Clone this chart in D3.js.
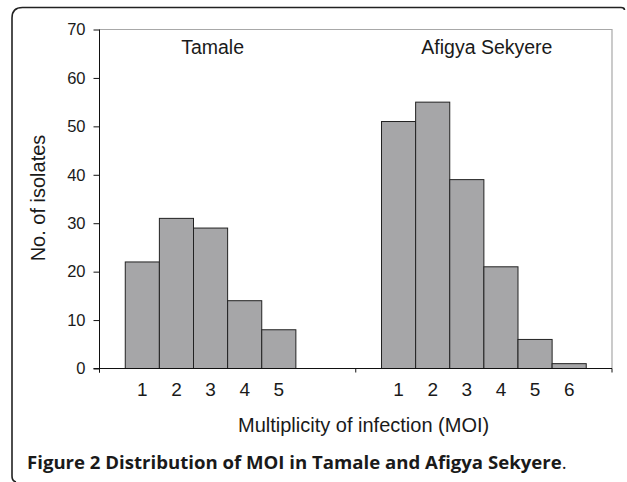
<!DOCTYPE html>
<html>
<head>
<meta charset="utf-8">
<script src="https://cdn.jsdelivr.net/npm/d3@7"></script>
<style>
  html, body { margin: 0; padding: 0; background: #fff; }
  svg text { font-family: "Liberation Sans", Arial, sans-serif; fill: #1a1a1a; }
</style>
</head>
<body>
<svg id="myGraph" width="627" height="482"></svg>
<script>
// data
var groups = ['Tamale', 'Afigya Sekyere'];
var moiSlots = ['1', '2', '3', '4', '5', '6'];
var tamaleValues = [22, 31, 29, 14, 8];
var afigyaValues = [51, 55, 39, 21, 6, 1];
var yTicks = [0, 10, 20, 30, 40, 50, 60, 70];

(function() {
  var svg = d3.select('#myGraph');

  // outer frame (rounded, cut at the right/bottom)
  svg.append('path')
    .attr('d', 'M12,476 Q12,481 16,482 M12,476 L12,18 Q12,7.5 22.5,7.5 L621,7.5 Q624.5,7.5 624.5,10')
    .attr('fill', 'none')
    .attr('stroke', '#222')
    .attr('stroke-width', 1.6);

  var pLeft = 99.5, pRight = 612, pTop = 29.5, pBottom = 368.5;

  var y = d3.scaleLinear().domain([0, 70]).range([pBottom, pTop]);
  var xGroup = d3.scaleBand().domain(groups).range([pLeft, pRight]).padding(0);
  var xSlot = d3.scaleBand().domain(moiSlots)
    .range([0, xGroup.bandwidth()])
    .paddingInner(0)
    .paddingOuter(0.755);

  // plot area border (gray top/right)
  svg.append('path')
    .attr('d', 'M' + pLeft + ',' + pTop + 'L' + pRight + ',' + pTop + 'L' + pRight + ',' + pBottom)
    .attr('fill', 'none')
    .attr('stroke', '#a8a8a8')
    .attr('stroke-width', 1.2);

  // bars
  var series = [tamaleValues, afigyaValues];
  series.forEach(function(vals, gi) {
    var gx = xGroup(groups[gi]);
    svg.append('g')
      .selectAll('rect')
      .data(vals)
      .enter()
      .append('rect')
      .attr('x', function(d, i) { return gx + xSlot(moiSlots[i]); })
      .attr('y', function(d) { return y(d); })
      .attr('width', xSlot.bandwidth())
      .attr('height', function(d) { return y(0) - y(d); })
      .style('fill', '#a6a6a8')
      .style('stroke', '#222')
      .style('stroke-width', 1);

    // MOI labels under bars
    svg.append('g')
      .selectAll('text')
      .data(vals)
      .enter()
      .append('text')
      .attr('x', function(d, i) { return gx + xSlot(moiSlots[i]) + xSlot.bandwidth() / 2; })
      .attr('y', 396)
      .attr('text-anchor', 'middle')
      .style('font-size', '19px')
      .text(function(d, i) { return moiSlots[i]; });

    // group label
    svg.append('text')
      .attr('x', gx + xGroup.bandwidth() / 2 + (gi === 0 ? -15 : 3))
      .attr('y', 54)
      .attr('text-anchor', 'middle')
      .style('font-size', '19.5px')
      .text(groups[gi]);
  });

  // y axis
  var yAxis = d3.axisLeft(y).tickValues(yTicks).tickSize(6).tickPadding(8);
  var yg = svg.append('g')
    .attr('transform', 'translate(' + pLeft + ',0)')
    .call(yAxis);
  yg.select('.domain').attr('d', 'M0,' + pTop + 'V' + (pBottom + 4)).attr('stroke', '#111');
  yg.selectAll('.tick line').attr('stroke', '#111');
  yg.selectAll('.tick text')
    .style('font-size', '16.5px')
    .style('font-family', '"Liberation Sans", Arial, sans-serif')
    .attr('fill', '#1a1a1a');

  // x axis (group boundaries)
  var xg = svg.append('g')
    .attr('transform', 'translate(0,' + pBottom + ')')
    .call(d3.axisBottom(xGroup).tickSize(4).tickFormat(''));
  xg.select('.domain').attr('d', 'M' + (pLeft - 6) + ',0H' + pRight).attr('stroke', '#111');
  xg.selectAll('.tick').remove();
  xg.selectAll('.bound')
    .data(groups.concat(['end']))
    .enter()
    .append('line')
    .attr('class', 'bound')
    .attr('x1', function(d, i) { return i < groups.length ? xGroup(d) : pRight; })
    .attr('x2', function(d, i) { return i < groups.length ? xGroup(d) : pRight; })
    .attr('y1', 0)
    .attr('y2', 4)
    .attr('stroke', '#111');

  // axis titles
  svg.append('text')
    .attr('transform', 'translate(45,198) rotate(-90)')
    .attr('text-anchor', 'middle')
    .style('font-size', '20px')
    .text('No. of isolates');

  svg.append('text')
    .attr('x', 238)
    .attr('y', 432)
    .style('font-size', '20px')
    .text('Multiplicity of infection (MOI)');

  // caption
  var cap = svg.append('text')
    .attr('x', 27)
    .attr('y', 469)
    .style('font-family', '"Open Sans", sans-serif')
    .style('font-size', '18.6px');
  cap.append('tspan').style('font-weight', 'bold')
    .text('Figure 2 Distribution of MOI in Tamale and Afigya Sekyere');
  cap.append('tspan').text('.');
}());
</script>
</body>
</html>
